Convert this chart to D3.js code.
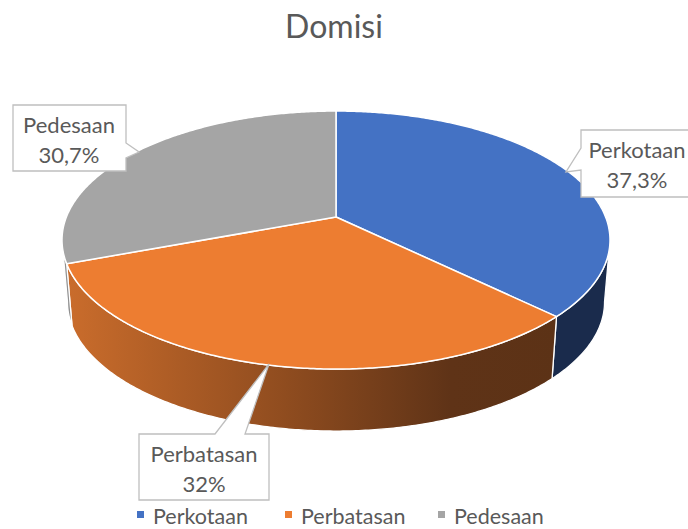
<!DOCTYPE html>
<html>
<head>
<meta charset="utf-8">
<script src="https://cdn.jsdelivr.net/npm/d3@7"></script>
<style>
  body { margin: 0; background: #fff; }
  svg { display: block; font-family: Lato, "Open Sans", sans-serif; }
</style>
</head>
<body>
<svg width="688" height="529"></svg>
<script>
const categories = ["Perkotaan", "Perbatasan", "Pedesaan"];
const values = [37.3, 32, 30.7];
const valueLabels = ["37,3%", "32%", "30,7%"];
const topColors = ["#4472C4", "#ED7D31", "#A5A5A5"];
const sideColors = [["#1E3153", "#1A2B4C"], ["#CB6D2C", "#5C3216"], ["#909090", "#8A8A8A"]];

const svg = d3.select("svg");

// 3D pie geometry (perspective tilt)
const cx = 336, cy = 217, sx = 269.6, sy = 124.9, k = 0.1785, depth = 62, shrink = 0.98;

function proj(a, bottom) {
  const u = Math.sin(a), v = -Math.cos(a), w = 1 - k * v;
  const s = bottom ? sx * shrink : sx;
  return [cx + s * u / w, cy + sy * v / w + (bottom ? depth : 0)];
}

function arcPts(a0, a1, bottom) {
  const n = Math.max(2, Math.ceil(Math.abs(a1 - a0) / 0.01));
  return d3.range(n + 1).map(i => proj(a0 + (a1 - a0) * i / n, bottom));
}

const pie = d3.pie().sort(null).value(d => d.value);
const slices = pie(categories.map((c, i) => ({ name: c, value: values[i], i })));

// visible front arc of the side wall
const visA = Math.acos(-k), visB = 2 * Math.PI - Math.acos(-k);

const defs = svg.append("defs");
slices.forEach((s, i) => {
  const g = defs.append("linearGradient")
    .attr("id", "side" + i)
    .attr("gradientUnits", "userSpaceOnUse")
    .attr("x1", 62).attr("x2", 560).attr("y1", 0).attr("y2", 0);
  if (i === 1) {
    g.append("stop").attr("offset", 0).attr("stop-color", "#CB6D2C");
    g.append("stop").attr("offset", 0.45).attr("stop-color", "#8F4C1F");
    g.append("stop").attr("offset", 0.78).attr("stop-color", "#5F3317");
    g.append("stop").attr("offset", 1).attr("stop-color", "#5C3216");
  } else {
    g.append("stop").attr("offset", 0).attr("stop-color", sideColors[i][0]);
    g.append("stop").attr("offset", 1).attr("stop-color", sideColors[i][1]);
  }
});

const line = d3.line();

// sides
svg.append("g").selectAll("path")
  .data(slices.filter(s => s.endAngle > visA && s.startAngle < visB))
  .join("path")
  .attr("d", s => {
    const a0 = Math.max(s.startAngle, visA), a1 = Math.min(s.endAngle, visB);
    const pts = arcPts(a0, a1, false).concat(arcPts(a1, a0, true));
    return line(pts) + "Z";
  })
  .attr("fill", s => `url(#side${s.index})`)
  .attr("stroke", "#fff")
  .attr("stroke-width", 1.3)
  .attr("stroke-linejoin", "round");

// tops
svg.append("g").selectAll("path")
  .data(slices)
  .join("path")
  .attr("d", s => line([[cx, cy]].concat(arcPts(s.startAngle, s.endAngle, false))) + "Z")
  .attr("fill", s => topColors[s.index])
  .attr("stroke", "#fff")
  .attr("stroke-width", 1.5)
  .attr("stroke-linejoin", "round");

// title
svg.append("text")
  .attr("x", 334).attr("y", 38)
  .attr("text-anchor", "middle")
  .attr("fill", "#595959")
  .style("font-size", "32px")
  .text("Domisi");

// callouts
const callouts = [
  { i: 0, x0: 581, y0: 130, x1: 700, y1: 197, tx: 637 },
  { i: 1, x0: 139, y0: 434, x1: 269, y1: 500, tx: 204 },
  { i: 2, x0: 13, y0: 105, x1: 126, y1: 171, tx: 69 }
];

function calloutPath(c) {
  const { x0, y0, x1, y1 } = c;
  if (c.i === 0) return `M${x0},${y0} H${x1} V${y1} H${x0} V170 L566,172 L${x0},148 Z`;
  if (c.i === 1) return `M${x0},${y0} H215 L269,364 L245,${y0} H${x1} V${y1} H${x0} Z`;
  return `M${x0},${y0} H${x1} V143 L139,152 L${x1},158 V${y1} H${x0} Z`;
}

const cg = svg.append("g").selectAll("g").data(callouts).join("g");
cg.append("path")
  .attr("d", calloutPath)
  .attr("fill", "#fff")
  .attr("stroke", "#BFBFBF")
  .attr("stroke-width", 1.3);
cg.append("text")
  .attr("x", c => c.tx).attr("y", c => c.y0 + 28)
  .attr("text-anchor", "middle")
  .attr("fill", "#595959")
  .style("font-size", "22px")
  .text(c => categories[c.i]);
cg.append("text")
  .attr("x", c => c.tx).attr("y", c => c.y0 + 58)
  .attr("text-anchor", "middle")
  .attr("fill", "#595959")
  .style("font-size", "22px")
  .text(c => valueLabels[c.i]);

// legend
const legendX = [137, 285, 438];
const lg = svg.append("g").selectAll("g").data(categories).join("g")
  .attr("transform", (d, i) => `translate(${legendX[i]},0)`);
lg.append("rect")
  .attr("x", 0).attr("y", 511).attr("width", 7).attr("height", 7)
  .attr("fill", (d, i) => topColors[i]);
lg.append("text")
  .attr("x", 16).attr("y", 524)
  .attr("fill", "#595959")
  .style("font-size", "21.5px")
  .text(d => d);
</script>
</body>
</html>
